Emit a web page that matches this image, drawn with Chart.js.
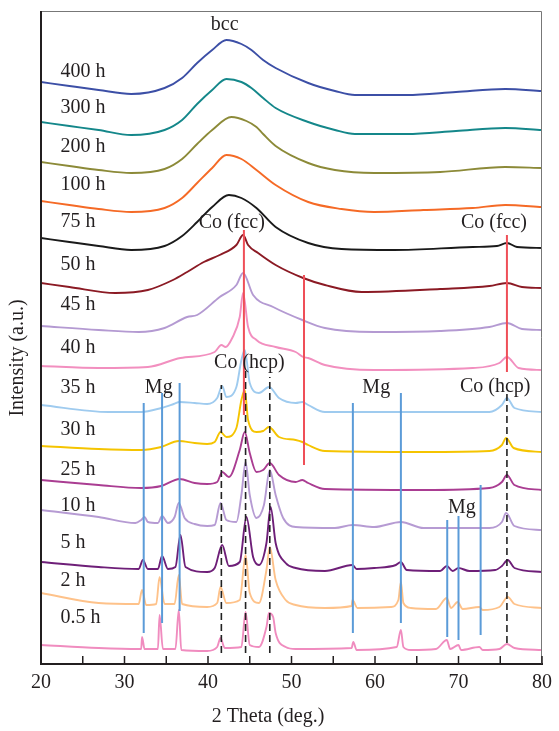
<!DOCTYPE html>
<html>
<head>
<meta charset="utf-8">
<script src="https://cdn.jsdelivr.net/npm/chart.js@4.4.1/dist/chart.umd.min.js"></script>
<style>
  body { margin: 0; background: #fff; }
  #wrap { width: 559px; height: 731px; }
</style>
</head>
<body>
<div id="wrap"><canvas id="c" width="559" height="731"></canvas></div>
<script>
// XRD patterns: [2theta (deg), stacked intensity (a.u.)]
const h400 = [[20,582],[23.4,578],[26.9,574],[30.8,570],[34.8,576],[36.9,586],[38.7,601],[40.5,614],[42.2,624],[44.0,620],[45.2,614],[46.6,604],[48.1,596],[52.0,581],[55.2,573],[57.6,569],[63.8,569],[69.7,572],[75.6,575],[80,573]];
const h300 = [[20,542],[23.4,538],[26.9,534],[30.8,529],[34.8,534],[36.9,544],[38.7,560],[40.5,574],[42.2,585],[44.0,582],[45.2,576],[46.6,566],[48.1,556],[52.0,542],[55.2,534],[57.6,530],[63.8,530],[69.7,533],[75.6,536],[80,534]];
const h200 = [[20,502],[23.4,498],[26.9,494],[30.8,491],[34.8,495],[36.9,505],[38.7,520],[40.5,534],[42.8,547],[44.6,543],[45.8,537],[46.6,530],[48.1,518],[52.0,501],[55.2,494],[59.9,491],[67.8,492],[75.6,497],[80,496]];
const h100 = [[20,463],[23.4,459],[26.9,455],[30.8,452],[34.8,456],[36.9,466],[38.7,481],[40.5,496],[42.2,509],[44.0,505],[45.8,494],[48.1,479],[52.0,462],[56.0,455],[59.9,452],[65.8,454],[71.7,456],[75.6,459],[80,457]];
const h75 = [[20,426],[23.4,422],[26.9,418],[30.8,414],[34.8,418],[36.9,428],[38.7,442],[40.5,457],[42.5,469],[44.0,466],[45.8,456],[48.1,437],[52.0,421],[56.0,415],[62.3,414],[71.7,417],[74.6,418],[75.8,421],[77.0,417],[80,416]];
const h50 = [[20,381],[23.4,377],[28.9,371],[32.8,374],[35.8,384],[37.5,392],[39.5,402],[41.4,409],[43.4,419],[44.2,429],[44.8,419],[46.0,411],[48.1,399],[51.4,386],[54.0,379],[58.4,372],[67.8,375],[73.7,378],[75.8,381],[77.6,377],[80,376]];
const h45 = [[20,338],[26.9,334],[31.7,332],[34.8,336],[37.5,347],[38.7,349],[41.4,367],[43.4,379],[44.2,391],[45.4,369],[47.8,357],[51.3,344],[54.0,336],[59.9,332],[67.8,333],[73.7,337],[75.8,341],[77.6,335],[80,334]];
const h40 = [[20,298],[26.9,296],[32.8,297],[36.7,306],[40.8,312],[41.6,319],[42.1,317],[42.9,326],[43.8,347],[44.2,371],[44.8,337],[45.8,324],[48.1,317],[50.5,312],[51.4,307],[52.0,306],[54.0,299],[59.9,294],[71.7,296],[74.9,301],[75.8,307],[77.2,296],[80,294]];
const h35 = [[20,259],[28.1,252],[32.0,252],[34.4,256],[35.9,260],[36.6,262],[38.4,261],[39.9,260],[41.1,266],[41.7,278],[42.2,267],[43.4,277],[44.0,304],[44.4,314],[45.0,281],[46.1,271],[47.3,277],[48.5,266],[50.5,261],[51.3,262],[52.0,259],[54.0,252],[65.8,252],[73.7,252],[75.2,259],[75.8,266],[76.7,256],[80,252]];
const h30 = [[20,218],[26.9,215],[32.0,214],[34.4,217],[36.5,223],[38.4,221],[39.9,220],[40.8,222],[41.5,232],[42.2,227],[43.4,236],[44.0,264],[44.4,274],[44.8,244],[45.8,232],[46.6,233],[47.3,237],[48.5,227],[50.5,224],[51.3,222],[52.0,219],[54.0,213],[65.8,212],[73.7,213],[75.2,219],[75.7,226],[76.6,216],[80,212]];
const h25 = [[20,184],[26.9,179],[32.0,176],[34.4,178],[36.6,185],[38.4,181],[39.9,180],[41.1,182],[41.7,192],[42.5,187],[43.8,214],[44.4,232],[45.0,211],[45.8,192],[46.6,194],[47.4,201],[48.5,189],[50.5,182],[51.3,184],[52.0,181],[54.0,175],[65.8,174],[73.7,176],[75.2,182],[75.8,189],[76.7,179],[80,174]];
const h10 = [[20,154],[26.9,147],[31.3,141],[32.0,144],[32.4,147],[32.8,142],[34.0,141],[34.5,148],[35.2,141],[36.0,147],[36.5,161],[37.2,146],[38.4,140],[39.9,138],[40.8,139],[41.5,161],[42.2,144],[43.4,142],[44.0,169],[44.5,202],[45.0,169],[45.8,146],[46.7,159],[47.4,194],[48.1,169],[49.0,146],[50.5,137],[55.2,136],[57.3,139],[59.9,137],[63.1,142],[65.8,136],[73.7,136],[75.2,142],[75.7,151],[76.7,138],[80,134]];
const h5 = [[20,102],[26.9,97],[31.7,95],[32.2,104],[32.8,95],[34.0,95],[34.5,108],[35.2,95],[36.1,97],[36.7,129],[37.3,97],[39.9,92],[40.8,96],[41.7,119],[42.5,98],[43.8,102],[44.6,147],[45.4,107],[46.1,99],[47.0,121],[47.5,157],[48.1,121],[49.3,101],[50.5,96],[54.0,93],[57.3,99],[57.8,95],[59.9,96],[62.5,99],[63.1,102],[63.8,94],[67.8,93],[68.6,98],[69.3,93],[70.0,96],[71.3,93],[74.4,94],[75.2,98],[75.9,104],[76.7,96],[80,92]];
const h2 = [[20,71],[26.9,61],[31.7,60],[32.1,74],[32.6,59],[33.8,60],[34.2,87],[34.8,60],[36.0,60],[36.5,89],[36.9,60],[39.9,57],[41.1,61],[41.5,77],[42.2,61],[43.8,64],[44.5,109],[45.0,71],[46.1,61],[47.0,94],[47.4,117],[48.1,84],[49.3,64],[50.5,59],[54.0,56],[57.2,58],[57.3,64],[57.9,56],[61.9,57],[62.8,64],[63.1,82],[63.4,61],[64.3,56],[67.3,55],[68.6,66],[69.1,56],[69.9,62],[70.5,55],[72.5,57],[72.9,54],[74.9,57],[75.9,67],[76.7,60],[80,56]];
const h05 = [[20,19],[26.9,16],[31.7,15],[32.0,15],[32.1,27],[32.4,15],[34.0,15],[34.2,49],[34.6,15],[36.1,15],[36.5,54],[36.8,14],[39.9,13],[41.1,17],[41.5,26],[42.0,16],[44.0,17],[44.5,52],[45.0,19],[46.1,17],[47.0,37],[47.3,51],[47.8,47],[48.1,31],[49.3,17],[50.5,15],[57.2,16],[57.4,22],[57.8,14],[62.6,17],[63.1,34],[63.4,17],[64.3,14],[67.3,15],[68.6,24],[69.0,15],[70.0,19],[70.3,14],[72.5,17],[72.9,14],[74.9,15],[75.8,20],[76.7,16],[80,14]];

const sampleNames = ['400 h','300 h','200 h','100 h','75 h','50 h','45 h','40 h','35 h','30 h','25 h','10 h','5 h','2 h','0.5 h'];
const sampleData = [h400,h300,h200,h100,h75,h50,h45,h40,h35,h30,h25,h10,h5,h2,h05];
const sampleColors = ['#3c4fa6','#14878a','#8c8a38','#f56a26','#1a1a1a','#8b1a24','#b49ad2','#f28fbf','#9fcbef','#f5c400','#aa3d92','#b69bd3','#6e1f78','#fec28a','#f08cbf'];
const sampleLabelX = 22.35;
const sampleLabelY = [592,556,517,479,442,399,359,316,276,234,194,158,121,83,46];

// reference lines: [2theta, bottom, top]
const mgLines = [[32.3,31,261],[34.5,41,271],[36.6,53,281],[57.35,31,261],[63.1,41,271],[68.65,27,144],[70.0,24,148],[72.65,29,179]];
const hcpLines = [[41.6,11,279],[44.5,11,294],[47.4,11,287],[75.8,21,271]];
const fccLines = [[44.3,249,434],[51.5,199,389],[75.8,292,429]];

const peakLabels = ['bcc','Co (fcc)','Co (fcc)','Co (hcp)','Co (hcp)','Mg','Mg','Mg'];
const peakLabelX = [42.0,42.85,74.25,44.95,74.4,34.1,60.15,70.4];
const peakLabelY = [639,441,441,301,277,276,276,156];

const FONT = '"Liberation Serif", "DejaVu Serif", serif';

const toXY = arr => arr.map(p => ({ x: p[0], y: p[1] }));

const datasets = [];
fccLines.forEach(l => datasets.push({ data: toXY([[l[0], l[1]], [l[0], l[2]]]), borderColor: '#ef4f58', borderWidth: 2 }));
mgLines.forEach(l => datasets.push({ data: toXY([[l[0], l[1]], [l[0], l[2]]]), borderColor: '#5b9bd8', borderWidth: 2 }));
hcpLines.forEach(l => datasets.push({ data: toXY([[l[0], l[1]], [l[0], l[2]]]), borderColor: '#222', borderWidth: 1.6, borderDash: [7, 4] }));
sampleData.forEach((d, i) => datasets.push({
    data: toXY(d), borderColor: sampleColors[i], borderWidth: 1.9, cubicInterpolationMode: 'monotone'
}));

const decorations = {
    id: 'decorations',
    afterDraw(chart) {
        const { ctx, chartArea: a, scales: { x, y } } = chart;
        ctx.save();
        // frame
        ctx.strokeStyle = '#777'; ctx.lineWidth = 1;
        ctx.beginPath(); ctx.moveTo(a.left, a.top + 0.5); ctx.lineTo(a.right - 0.5, a.top + 0.5); ctx.lineTo(a.right - 0.5, a.bottom); ctx.stroke();
        ctx.strokeStyle = '#231f20'; ctx.lineWidth = 2;
        ctx.beginPath(); ctx.moveTo(a.left, a.top); ctx.lineTo(a.left, a.bottom); ctx.stroke();
        // inward ticks
        ctx.lineWidth = 1.5;
        x.ticks.forEach(t => {
            const px = x.getPixelForValue(t.value);
            ctx.beginPath(); ctx.moveTo(px, a.bottom); ctx.lineTo(px, a.bottom - 8); ctx.stroke();
        });
        // texts
        ctx.fillStyle = '#231f20';
        ctx.font = '20px ' + FONT;
        ctx.textBaseline = 'middle';
        ctx.textAlign = 'left';
        sampleNames.forEach((n, i) => ctx.fillText(n, x.getPixelForValue(sampleLabelX), y.getPixelForValue(sampleLabelY[i])));
        ctx.textAlign = 'center';
        peakLabels.forEach((n, i) => ctx.fillText(n, x.getPixelForValue(peakLabelX[i]), y.getPixelForValue(peakLabelY[i])));
        // axis titles
        ctx.fillText('2 Theta (deg.)', a.left + 227, a.bottom + 53);
        ctx.translate(18, a.top + 347);
        ctx.rotate(-Math.PI / 2);
        ctx.fillText('Intensity (a.u.)', 0, 0);
        ctx.restore();
    }
};

new Chart(document.getElementById('c'), {
    type: 'line',
    data: { datasets },
    options: {
        responsive: false, animation: false,
        layout: { autoPadding: false, padding: { left: 41, right: 8, top: 11, bottom: 0 } },
        elements: { point: { radius: 0 } },
        plugins: { legend: { display: false }, tooltip: { enabled: false } },
        scales: {
            x: {
                type: 'linear', min: 20, max: 80,
                afterFit: s => { s.height = 67; },
                grid: { display: false, drawTicks: false },
                border: { display: true, color: '#231f20', width: 2 },
                ticks: {
                    stepSize: 5, maxRotation: 0, autoSkip: false, padding: 7, color: '#231f20',
                    font: { family: FONT, size: 20 },
                    callback: v => (v % 10 === 0 ? v : '')
                }
            },
            y: { type: 'linear', min: 0, max: 653, display: false }
        }
    },
    plugins: [decorations]
});
</script>
</body>
</html>
